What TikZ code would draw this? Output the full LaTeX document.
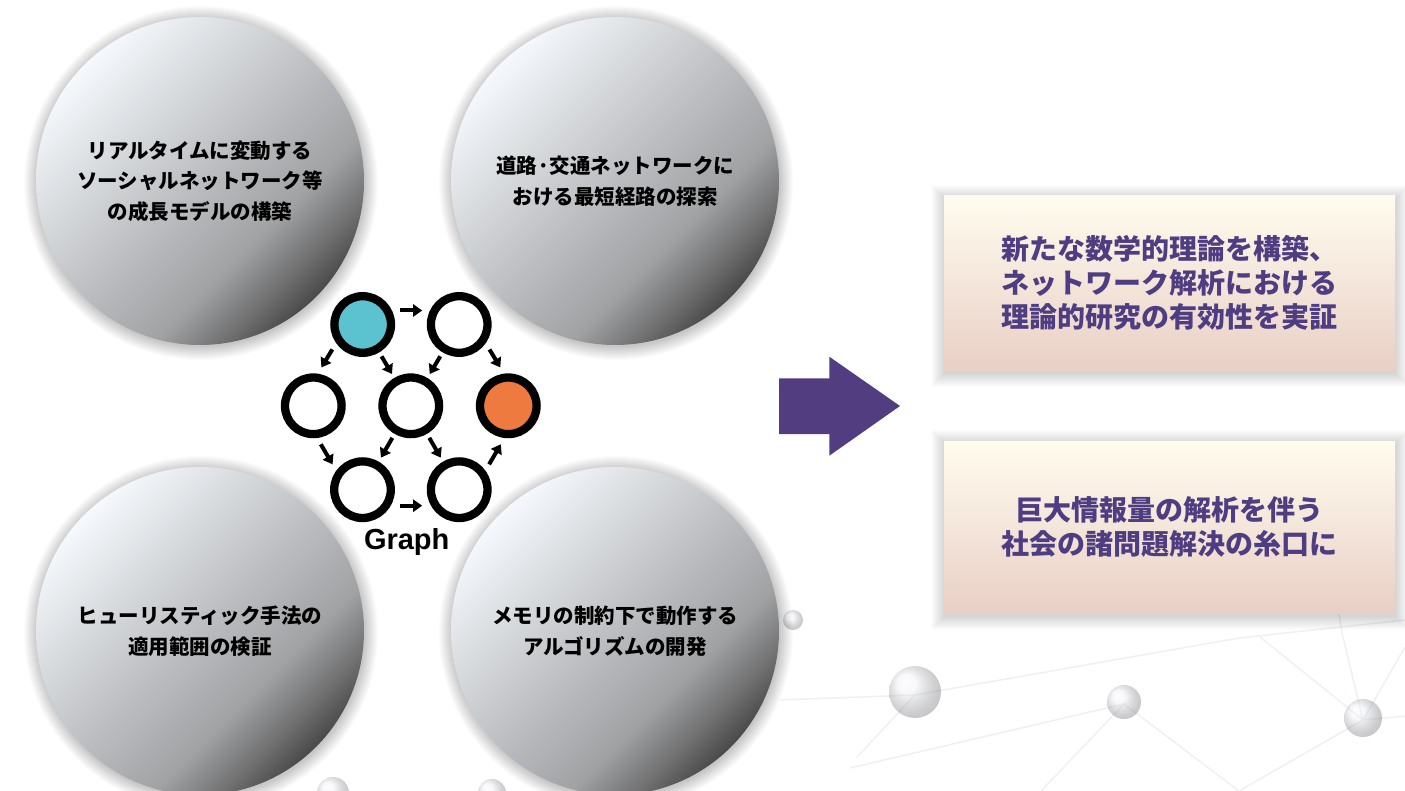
\documentclass[tikz,border=0pt]{standalone}
\usepackage{fontspec}
\setmainfont{Liberation Sans}
\newfontfamily\jp{Noto Sans CJK JP}
\usetikzlibrary{arrows.meta,calc}

\definecolor{s0}{HTML}{454545}
\definecolor{s1}{HTML}{4A4A4A}
\definecolor{s2}{HTML}{707071}
\definecolor{s3}{HTML}{A0A2A4}
\definecolor{s4}{HTML}{BBBDC0}
\definecolor{s5}{HTML}{D8DBDE}
\definecolor{s6}{HTML}{F5F8FC}
\definecolor{boxtop}{HTML}{FFFCEE}
\definecolor{boxbot}{HTML}{E9CFC6}
\definecolor{ptext}{HTML}{4F3D82}
\definecolor{parrow}{HTML}{523D80}
\definecolor{gcyan}{HTML}{5BC3CF}
\definecolor{gorange}{HTML}{EE7A40}
\definecolor{netline}{HTML}{EEF0F3}
\definecolor{netball}{HTML}{E2E4EC}

\pgfdeclareverticalshading{ballgrad}{100bp}{color(0bp)=(s0); color(25bp)=(s1); color(30bp)=(s2); color(37.5bp)=(s3); color(50bp)=(s4); color(62.5bp)=(s5); color(75bp)=(s6); color(100bp)=(s6)}

\tikzset{
  bigc/.style={circle, minimum size=328pt, inner sep=0pt, shading=ballgrad, shading angle=45,
    align=center, text=black, font=\jp\bfseries\fontsize{20.5}{30.5}\selectfont},
  gnode/.style={circle, draw=black, line width=8.3pt, minimum size=56.6pt, inner sep=0pt, fill=white},
  garr/.style={line width=4pt, -{Triangle[length=9pt,width=12pt]}, shorten <=37pt, shorten >=37pt},
  rbox/.style={rectangle, minimum width=451pt, minimum height=174pt, inner sep=0pt,
    top color=boxtop, bottom color=boxbot, align=center, text=ptext,
    font=\jp\bfseries\fontsize{28}{34}\selectfont},
  netl/.style={draw=netline, line width=1.5pt},
  netb/.style={ball color=netball, opacity=0.35},
}

\begin{document}
\begin{tikzpicture}[x=1pt,y=-1pt]
\useasboundingbox (0,0) rectangle (1405,791);
\fill[white] (0,0) rectangle (1405,791);

% faint background network
\draw[netl] (857,757) -- (915,695) -- (1239,638) -- (1405,620);
\draw[netl] (850,768) -- (1124,704) -- (1041,791);
\draw[netl] (1124,704) -- (1239,791) -- (1363,720) -- (1405,647);
\draw[netl] (1363,720) -- (1342,633) -- (1330,560);
\draw[netl] (1363,720) -- (1260,637);
\draw[netl] (1363,720) -- (1405,716);
\draw[netl] (780,700) -- (915,695);
\shade[netb] (915,692) circle[radius=26pt];
\shade[netb] (1124,702) circle[radius=17pt];
\shade[netb] (1363,718) circle[radius=19pt];
\shade[netb] (793,620) circle[radius=10pt];
\shade[netb] (333,793) circle[radius=16pt];
\shade[netb] (492,793) circle[radius=14pt];

% shadows of the big circles
\foreach \cx/\cy in {200/181, 615/181, 200/631, 615/631}{
  \foreach \k in {1,...,14}{
    \fill[black, opacity=0.014] (\cx+1,\cy+2) circle[radius=163pt+\k pt];
  }
}

% big circles
\node[bigc] (c1) at (200,181) {リアルタイムに変動する\\ソーシャルネットワーク等\\の成長モデルの構築};
\node[bigc] (c2) at (615,181) {道路·交通ネットワークに\\おける最短経路の探索};
\node[bigc] (c3) at (200,631) {ヒューリスティック手法の\\適用範囲の検証};
\node[bigc] (c4) at (615,631) {メモリの制約下で動作する\\アルゴリズムの開発};

% graph
\node[gnode, fill=gcyan] (n1) at (362.7,324.5) {};
\node[gnode] (n2) at (459.2,324.5) {};
\node[gnode] (n3) at (313.3,405.8) {};
\node[gnode] (n4) at (410.8,405.8) {};
\node[gnode, fill=gorange] (n5) at (508.3,405.8) {};
\node[gnode] (n6) at (362.5,489.7) {};
\node[gnode] (n7) at (459.2,489.7) {};

\draw[garr] ($(n1.center)!14pt!90:(n2.center)$) -- ($(n2.center)!14pt!-90:(n1.center)$);
\draw[garr] ($(n1.center)!13pt!-90:(n3.center)$) -- ($(n3.center)!13pt!90:(n1.center)$);
\draw[garr] (n1.center) -- (n4.center);
\draw[garr] (n2.center) -- (n4.center);
\draw[garr] ($(n2.center)!13pt!90:(n5.center)$) -- ($(n5.center)!13pt!-90:(n2.center)$);
\draw[garr] ($(n3.center)!13pt!-90:(n6.center)$) -- ($(n6.center)!13pt!90:(n3.center)$);
\draw[garr] (n4.center) -- (n6.center);
\draw[garr] (n4.center) -- (n7.center);
\draw[garr] ($(n7.center)!13pt!-90:(n5.center)$) -- ($(n5.center)!13pt!90:(n7.center)$);
\draw[garr] ($(n6.center)!16pt!-90:(n7.center)$) -- ($(n7.center)!16pt!90:(n6.center)$);

\node[font=\bfseries\fontsize{29}{32}\selectfont, anchor=base, inner sep=0pt] (glabel) at (406.7,549) {Graph};

% big arrow
\fill[parrow] (779,378.3) -- (829.3,378.3) -- (829.3,356.7) -- (900,406) -- (829.3,455.7) -- (829.3,434) -- (779,434) -- cycle;

% box shadows
\foreach \x/\y/\X/\Y in {944/196/1395/370, 944/441/1395/613}{
  \foreach \k in {1,...,14}{
    \fill[black, opacity=0.012] (\x-\k+1,\y-\k+3) rectangle (\X+\k,\Y+\k+3);
  }
}

\node[rbox] (b1) at (1169.5,283) {新たな数学的理論を構築、\\ネットワーク解析における\\理論的研究の有効性を実証};
\node[rbox, minimum height=172pt] (b2) at (1169.5,527) {巨大情報量の解析を伴う\\社会の諸問題解決の糸口に};
\end{tikzpicture}
\end{document}
